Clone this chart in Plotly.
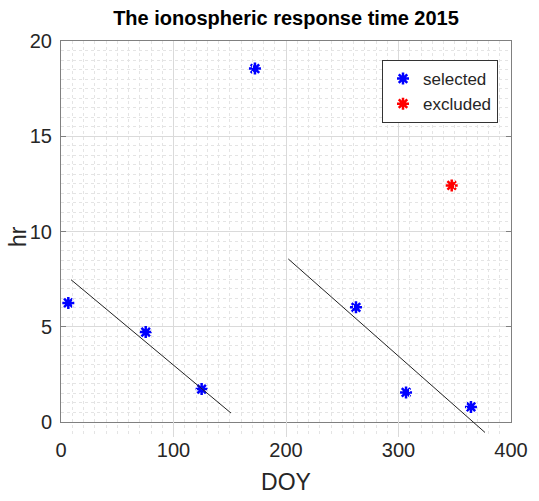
import plotly.graph_objects as go

# ---- data ----
doy_selected = [6.5, 75.3, 125.0, 172.4, 262.2, 306.7, 364.4]
hr_selected = [6.25, 4.72, 1.73, 18.55, 6.02, 1.55, 0.79]
doy_excluded = [347.3]
hr_excluded = [12.42]
fit1_doy = [8.9, 151.1]
fit1_hr = [7.47, 0.47]
fit2_doy = [202.0, 376.9]
fit2_hr = [8.56, -0.55]
x_ticks = [0, 100, 200, 300, 400]
y_ticks = [0, 5, 10, 15, 20]

W, H = 539, 501
ML, MR, MT, MB = 61, 28, 41, 64
PH = H - MT - MB
PW = W - ML - MR
D = 15 / PH  # extra room below the axis so the fit line can overhang

FONT = "Liberation Sans, Arial, Helvetica, sans-serif"
AX = "#808080"
TXT = "#262626"

fig = go.Figure()

fig.add_trace(go.Scatter(
    x=doy_selected, y=hr_selected, mode="markers", name="selected",
    xaxis="x", yaxis="y",
    marker=dict(symbol="asterisk-open", size=10, color="#0000ff",
                line=dict(color="#0000ff", width=2.5))))
fig.add_trace(go.Scatter(
    x=doy_excluded, y=hr_excluded, mode="markers", name="excluded",
    xaxis="x", yaxis="y",
    marker=dict(symbol="asterisk-open", size=10, color="#ff0000",
                line=dict(color="#ff0000", width=2.5))))

fig.add_trace(go.Scatter(
    x=fit1_doy, y=fit1_hr, mode="lines", xaxis="x", yaxis="y2",
    line=dict(color="#222222", width=1), showlegend=False, hoverinfo="skip"))
fig.add_trace(go.Scatter(
    x=fit2_doy, y=fit2_hr, mode="lines", xaxis="x", yaxis="y2",
    line=dict(color="#222222", width=1), showlegend=False, hoverinfo="skip"))

fig.update_layout(
    width=W, height=H,
    margin=dict(l=ML, r=MR, t=MT, b=MB, pad=0),
    paper_bgcolor="white", plot_bgcolor="rgba(0,0,0,0)",
    font=dict(family=FONT, color=TXT, size=20),
    title=dict(text="<b>The ionospheric response time 2015</b>",
               font=dict(family=FONT, size=20, color="#000000"),
               x=0.5, xref="paper", xanchor="center",
               y=1 - 18 / H, yref="container", yanchor="middle"),
    xaxis=dict(range=[0, 400], tickvals=x_ticks, anchor="y",
               showline=True, linecolor=AX, linewidth=1, mirror="ticks",
               ticks="inside", ticklen=5, tickcolor=AX,
               showgrid=True, gridcolor="#dadada", gridwidth=1,
               zeroline=False,
               minor=dict(dtick=10, showgrid=True, gridcolor="#e4e4e4",
                          griddash="dot", ticks=""),
               tickfont=dict(size=20, color=TXT),
               ticklabelstandoff=10,
               title=dict(text="DOY", font=dict(size=23, color=TXT), standoff=13)),
    yaxis=dict(range=[0, 20], tickvals=y_ticks, domain=[D, 1], anchor="x",
               showline=True, linecolor=AX, linewidth=1, mirror="ticks",
               ticks="inside", ticklen=5, tickcolor=AX,
               showgrid=True, gridcolor="#dadada", gridwidth=1,
               zeroline=False,
               minor=dict(dtick=0.5, showgrid=True, gridcolor="#e4e4e4",
                          griddash="dot", ticks=""),
               tickfont=dict(size=20, color=TXT),
               ticklabelstandoff=4),
    yaxis2=dict(range=[20 - 20 / (1 - D), 20], domain=[0, 1], anchor="x",
                visible=False, showgrid=False, zeroline=False),
    legend=dict(x=(498 - ML) / PW, xanchor="right",
                y=(H - MB - 60) / PH, yanchor="top",
                bgcolor="white", bordercolor="#333333", borderwidth=1,
                font=dict(size=17, color=TXT), tracegroupgap=0),
    showlegend=True,
    annotations=[dict(text="hr", textangle=-90, showarrow=False,
                      xref="paper", yref="paper",
                      x=(18 - ML) / PW, xanchor="center",
                      y=(H - MB - 237) / PH, yanchor="middle",
                      font=dict(size=23, color=TXT))],
)

fig.write_html("out.html")
